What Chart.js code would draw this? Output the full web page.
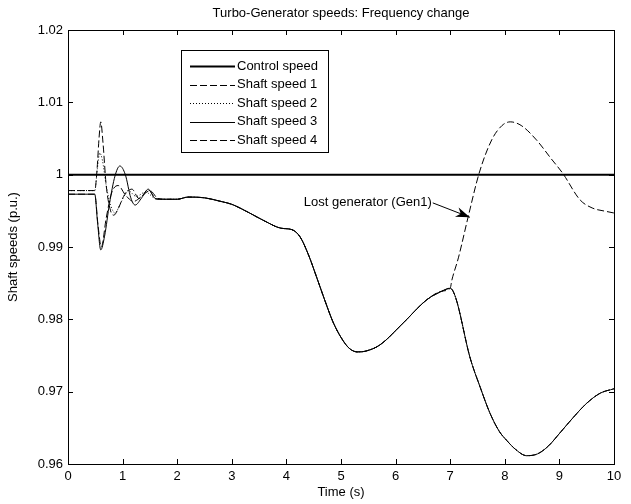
<!DOCTYPE html>
<html>
<head>
<meta charset="utf-8">
<title>Turbo-Generator speeds</title>
<script src="https://cdn.jsdelivr.net/npm/chart.js@4.4.1/dist/chart.umd.min.js"></script>
<style>
    html, body { margin: 0; padding: 0; background: #ffffff; }
    #grafico { display: block; }
</style>
</head>
<body>
<canvas id="grafico" width="631" height="504"></canvas>
<script>
// ==========================================
// Turbo-Generator speeds: Frequency change
// ==========================================

// --- data (time in s, speed in p.u.) ---
var TITULO = 'Turbo-Generator speeds: Frequency change';
var ROTULO_X = 'Time (s)';
var ROTULO_Y = 'Shaft speeds (p.u.)';
var LEGENDAS = ['Control speed', 'Shaft speed 1', 'Shaft speed 2', 'Shaft speed 3', 'Shaft speed 4'];
var ANOTACAO = 'Lost generator (Gen1)';

var X_MIN = 0, X_MAX = 10, X_PASSO = 1;
var Y_MIN = 0.96, Y_MAX = 1.02, Y_PASSO = 0.01;

var controleT = [0, 10];
var controleV = [1, 1];

// disturbance at start (0 .. 1.8 s), one pair per shaft
var eixo1T = [0, 0.49, 0.53, 0.57, 0.60, 0.64, 0.70, 0.78, 0.84, 0.92, 1.02, 1.17, 1.30, 1.47, 1.62, 1.80];
var eixo1V = [0.9978, 0.9978, 1.0005, 1.0052, 1.0073, 1.0045, 0.9985, 0.9950, 0.9944, 0.9953, 0.9970, 0.9980, 0.9967, 0.9979, 0.9966, 0.9966];

var eixo2T = [0, 0.49, 0.54, 0.58, 0.63, 0.70, 0.78, 0.86, 0.96, 1.10, 1.25, 1.42, 1.60, 1.80];
var eixo2V = [0.9978, 0.9978, 1.0010, 1.0030, 1.0020, 0.9985, 0.9958, 0.9947, 0.9960, 0.9978, 0.9970, 0.9976, 0.9967, 0.9966];

var eixo3T = [0, 0.49, 0.54, 0.60, 0.67, 0.76, 0.86, 0.95, 1.05, 1.15, 1.23, 1.35, 1.47, 1.60, 1.80];
var eixo3V = [0.9973, 0.9973, 0.9935, 0.9896, 0.9915, 0.9960, 0.9998, 1.0012, 1.0000, 0.9968, 0.9958, 0.9968, 0.9980, 0.9967, 0.9966];

var eixo4T = [0, 0.49, 0.55, 0.61, 0.70, 0.80, 0.92, 1.05, 1.20, 1.35, 1.50, 1.65, 1.80];
var eixo4V = [0.9973, 0.9973, 0.9930, 0.9900, 0.9940, 0.9975, 0.9985, 0.9972, 0.9963, 0.9970, 0.9978, 0.9967, 0.9966];

// common trunk, all shafts together (2 .. 7 s)
var comumT = [2.0, 2.2, 2.5, 2.8, 3.0, 3.3, 3.6, 3.9, 4.1, 4.25, 4.4, 4.55, 4.7, 4.85, 5.0, 5.15, 5.3, 5.45, 5.71, 6.14, 6.57, 6.85, 7.0];
var comumV = [0.9966, 0.9969, 0.9968, 0.9963, 0.9959, 0.9948, 0.9936, 0.9926, 0.9924, 0.9914, 0.9890, 0.9859, 0.9827, 0.9797, 0.9775, 0.9760, 0.9755, 0.9756, 0.97645, 0.9795, 0.9827, 0.9839, 0.9843];

// after the generator is lost (7 .. 10 s)
var perdidoT = [7.03, 7.15, 7.33, 7.53, 7.76, 7.95, 8.1, 8.3, 8.58, 8.85, 9.06, 9.38, 9.6, 9.87, 10];
var perdidoV = [0.9854, 0.9885, 0.9942, 1.0002, 1.0048, 1.0068, 1.0073, 1.0068, 1.0048, 1.0022, 1.0002, 0.9965, 0.9954, 0.9949, 0.9947];

var restanteT = [7.1, 7.36, 7.55, 7.73, 7.9, 8.03, 8.2, 8.4, 8.6, 8.8, 9.01, 9.25, 9.5, 9.75, 10];
var restanteV = [0.9830, 0.9748, 0.9706, 0.9670, 0.9645, 0.9633, 0.9620, 0.96115, 0.9614, 0.9625, 0.9643, 0.9664, 0.9684, 0.9698, 0.9704];

// annotation anchors, in data units
var anotacaoTexto = { x: 4.32, y: 0.9961 };
var anotacaoPonta = { x: 7.36, y: 0.99411 };

// --- helpers ---
function juntarPontos(ts, vs) {
    var pts = [];
    for (var i = 0; i < ts.length; i++) pts.push({ x: ts[i], y: vs[i] });
    return pts;
}

function serie(partes) {
    var pts = [];
    for (var i = 0; i < partes.length; i++) pts = pts.concat(juntarPontos(partes[i][0], partes[i][1]));
    return pts;
}

var FONTE = "'Liberation Sans', Arial, sans-serif";
Chart.defaults.font.family = FONTE;
Chart.defaults.font.size = 13;
Chart.defaults.color = '#000000';

function linha(label, data, largura, tracejado) {
    return {
        label: label,
        data: data,
        borderColor: '#000000',
        backgroundColor: '#000000',
        borderWidth: largura,
        borderDash: tracejado,
        pointRadius: 0,
        cubicInterpolationMode: 'monotone',
        fill: false
    };
}

var TRACO = [7, 3];
var PONTO = [1, 2];

var datasets = [
    linha(LEGENDAS[0], juntarPontos(controleT, controleV), 2, []),
    linha(LEGENDAS[1], serie([[eixo1T, eixo1V], [comumT, comumV], [perdidoT, perdidoV]]), 1, TRACO),
    linha(LEGENDAS[2], serie([[eixo2T, eixo2V], [comumT, comumV], [restanteT, restanteV]]), 1, PONTO),
    linha(LEGENDAS[3], serie([[eixo3T, eixo3V], [comumT, comumV], [restanteT, restanteV]]), 1, []),
    linha(LEGENDAS[4], serie([[eixo4T, eixo4V], [comumT, comumV], [restanteT, restanteV]]), 1, TRACO)
];

/// Box, inside ticks, title, legend and the arrow annotation (MATLAB look).
var pluginMatlab = {
    id: 'matlab',
    afterDraw: function (chart) {
        var ctx = chart.ctx;
        var a = chart.chartArea;
        var sx = chart.scales.x;
        var sy = chart.scales.y;
        var TICK = 5;

        ctx.save();
        ctx.strokeStyle = '#000000';
        ctx.lineWidth = 1;
        ctx.setLineDash([]);

        // axes box
        ctx.strokeRect(Math.round(a.left) + 0.5, Math.round(a.top) + 0.5,
            Math.round(a.right - a.left), Math.round(a.bottom - a.top));

        // inside ticks on all four sides
        ctx.beginPath();
        sx.ticks.forEach(function (t) {
            var px = Math.round(sx.getPixelForValue(t.value)) + 0.5;
            ctx.moveTo(px, a.bottom); ctx.lineTo(px, a.bottom - TICK);
            ctx.moveTo(px, a.top); ctx.lineTo(px, a.top + TICK);
        });
        sy.ticks.forEach(function (t) {
            var py = Math.round(sy.getPixelForValue(t.value)) + 0.5;
            ctx.moveTo(a.left, py); ctx.lineTo(a.left + TICK, py);
            ctx.moveTo(a.right, py); ctx.lineTo(a.right - TICK, py);
        });
        ctx.stroke();

        // title centred on the axes
        ctx.fillStyle = '#000000';
        ctx.font = '13px ' + FONTE;
        ctx.textAlign = 'center';
        ctx.textBaseline = 'middle';
        ctx.fillText(TITULO, (a.left + a.right) / 2, a.top - 17);

        // annotation with arrow
        var tx = sx.getPixelForValue(anotacaoTexto.x);
        var ty = sy.getPixelForValue(anotacaoTexto.y);
        ctx.textAlign = 'left';
        ctx.fillText(ANOTACAO, tx, ty);
        var x0 = tx + ctx.measureText(ANOTACAO).width + 1;
        var y0 = ty;
        var x1 = sx.getPixelForValue(anotacaoPonta.x);
        var y1 = sy.getPixelForValue(anotacaoPonta.y);
        ctx.beginPath();
        ctx.moveTo(x0, y0);
        ctx.lineTo(x1, y1);
        ctx.stroke();
        var ang = Math.atan2(y1 - y0, x1 - x0);
        var L = 14, W = 5;
        ctx.beginPath();
        ctx.moveTo(x1, y1);
        ctx.lineTo(x1 - L * Math.cos(ang) + W * Math.sin(ang), y1 - L * Math.sin(ang) - W * Math.cos(ang));
        ctx.lineTo(x1 - L * 0.7 * Math.cos(ang), y1 - L * 0.7 * Math.sin(ang));
        ctx.lineTo(x1 - L * Math.cos(ang) - W * Math.sin(ang), y1 - L * Math.sin(ang) + W * Math.cos(ang));
        ctx.closePath();
        ctx.fill();

        // legend box
        var lx = 181, ly = 50, lw = 147, lh = 102;
        ctx.fillStyle = '#ffffff';
        ctx.fillRect(lx, ly, lw, lh);
        ctx.strokeRect(lx + 0.5, ly + 0.5, lw, lh);
        ctx.fillStyle = '#000000';
        chart.data.datasets.forEach(function (ds, i) {
            var yy = ly + 16 + i * 18.5;
            ctx.lineWidth = ds.borderWidth;
            ctx.setLineDash(ds.borderDash || []);
            ctx.beginPath();
            ctx.moveTo(lx + 9, Math.round(yy) + 0.5);
            ctx.lineTo(lx + 54, Math.round(yy) + 0.5);
            ctx.stroke();
            ctx.setLineDash([]);
            ctx.fillText(ds.label, lx + 56, yy);
        });
        ctx.restore();
    }
};

new Chart(document.getElementById('grafico'), {
    type: 'line',
    data: { datasets: datasets },
    options: {
        responsive: false,
        animation: false,
        layout: { padding: { top: 30, right: 17, left: 0, bottom: 0 } },
        plugins: {
            legend: { display: false },
            title: { display: false },
            tooltip: { enabled: false }
        },
        scales: {
            x: {
                type: 'linear',
                min: X_MIN,
                max: X_MAX,
                ticks: { stepSize: X_PASSO, padding: 5, maxRotation: 0 },
                grid: { display: false, drawTicks: false },
                border: { display: false },
                title: { display: true, text: ROTULO_X, padding: { top: 0, bottom: 4 }, font: { size: 13, lineHeight: 1.2 } },
                afterFit: function (s) { s.height = 40; }
            },
            y: {
                type: 'linear',
                min: Y_MIN,
                max: Y_MAX,
                ticks: {
                    stepSize: Y_PASSO,
                    padding: 5,
                    callback: function (v) { return String(+Number(v).toFixed(2)); }
                },
                grid: { display: false, drawTicks: false },
                border: { display: false },
                title: { display: true, text: ROTULO_Y, padding: { top: 6, bottom: 0 }, font: { size: 13, lineHeight: 1.2 } },
                afterFit: function (s) { s.width = 68; }
            }
        }
    },
    plugins: [pluginMatlab]
});
</script>
</body>
</html>
